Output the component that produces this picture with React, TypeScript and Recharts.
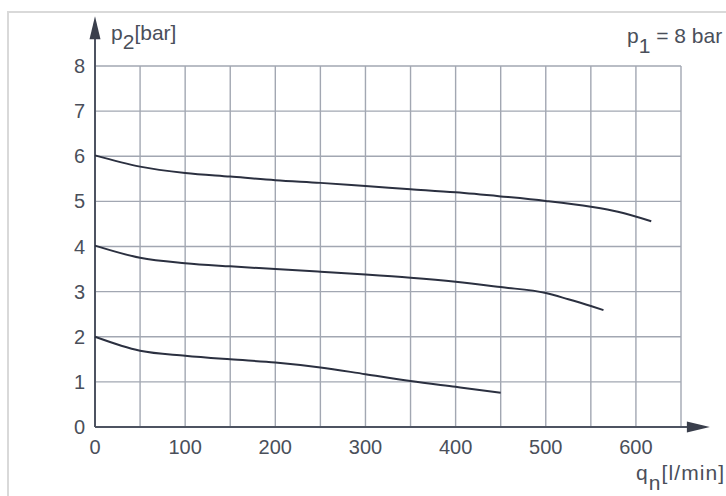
import React from "react";
import { LineChart, Line, XAxis, YAxis, ReferenceLine } from "recharts";

// Flow rate q_n [l/min] and outlet pressure p2 [bar] for three settings (p1 = 8 bar)
const qTop = [0, 50, 100, 150, 200, 250, 300, 350, 400, 450, 500, 550, 580, 617];
const pTop = [6.02, 5.77, 5.63, 5.55, 5.47, 5.41, 5.34, 5.27, 5.2, 5.11, 5.01, 4.88, 4.77, 4.56];

const qMid = [0, 50, 100, 150, 200, 250, 300, 350, 400, 450, 500, 525, 550, 564];
const pMid = [4.02, 3.75, 3.63, 3.56, 3.5, 3.44, 3.38, 3.31, 3.22, 3.1, 2.97, 2.83, 2.68, 2.59];

const qBot = [0, 50, 100, 150, 200, 250, 300, 350, 400, 450];
const pBot = [2.0, 1.69, 1.58, 1.5, 1.43, 1.32, 1.17, 1.02, 0.89, 0.76];

const xTicks = [0, 100, 200, 300, 400, 500, 600];
const yTicks = [0, 1, 2, 3, 4, 5, 6, 7, 8];
const gridQ = [50, 100, 150, 200, 250, 300, 350, 400, 450, 500, 550, 600, 650];
const gridP = [1, 2, 3, 4, 5, 6, 7, 8];
const xAxisEnd = 682;
const yAxisEnd = 9.1;

const toSeries = (q: number[], p: number[]) => q.map((x, i) => ({ q: x, p: p[i] }));
const seriesTop = toSeries(qTop, pTop);
const seriesMid = toSeries(qMid, pMid);
const seriesBot = toSeries(qBot, pBot);

const FONT = '"Liberation Sans", Arial, Helvetica, sans-serif';
const TEXT = "#4a4f5a";
const AXIS = "#4d5361";
const GRID = "#a2a7b2";
const CURVE = "#2b3040";

const ArrowLine = (props: any) => {
  const { x1, y1, x2, y2 } = props;
  const dx = x2 - x1;
  const dy = y2 - y1;
  const len = Math.sqrt(dx * dx + dy * dy) || 1;
  const ux = dx / len;
  const uy = dy / len;
  const L = 23;
  const W = 5.5;
  const bx = x2 - ux * L;
  const by = y2 - uy * L;
  const pts = `${x2},${y2} ${bx - uy * W},${by + ux * W} ${bx + uy * W},${by - ux * W}`;
  return (
    <g>
      <line x1={x1} y1={y1} x2={bx + ux * 2} y2={by + uy * 2} stroke={AXIS} strokeWidth={2} />
      <polygon points={pts} fill="#3a3f4c" />
    </g>
  );
};

export default function App() {
  return (
    <div style={{ position: "absolute", left: 0, top: 0, width: 726, height: 496, background: "#fff", overflow: "hidden" }}>
      <div
        style={{
          position: "absolute",
          left: 7,
          top: 11,
          width: 730,
          height: 500,
          borderLeft: "2px solid #d9d9d9",
          borderTop: "2px solid #d9d9d9",
        }}
      />
      <div style={{ position: "absolute", left: 0, top: 0 }}>
        <LineChart width={726} height={496} margin={{ top: 66, right: 45, bottom: 39, left: 0 }}>
          <XAxis
            type="number"
            dataKey="q"
            domain={[0, 650]}
            ticks={xTicks}
            interval={0}
            axisLine={false}
            tickLine={false}
            tickSize={0}
            tickMargin={13}
            height={30}
            allowDuplicatedCategory={false}
            tick={{ fill: TEXT, fontSize: 20, fontFamily: FONT }}
          />
          <YAxis
            type="number"
            dataKey="p"
            domain={[0, 8]}
            ticks={yTicks}
            interval={0}
            axisLine={false}
            tickLine={false}
            tickSize={0}
            tickMargin={10}
            width={95}
            tick={{ fill: TEXT, fontSize: 20, fontFamily: FONT }}
          />
          {gridQ.map((v) => (
            <ReferenceLine key={"gx" + v} x={v} stroke={GRID} strokeWidth={1.4} />
          ))}
          {gridP.map((v) => (
            <ReferenceLine key={"gy" + v} y={v} stroke={GRID} strokeWidth={1.4} />
          ))}
          <ReferenceLine
            segment={[{ x: 0, y: 0 }, { x: xAxisEnd, y: 0 }]}
            ifOverflow="visible"
            shape={ArrowLine}
          />
          <ReferenceLine
            segment={[{ x: 0, y: 0 }, { x: 0, y: yAxisEnd }]}
            ifOverflow="visible"
            shape={ArrowLine}
          />
          <Line data={seriesTop} dataKey="p" type="monotone" stroke={CURVE} strokeWidth={2} dot={false} isAnimationActive={false} />
          <Line data={seriesMid} dataKey="p" type="monotone" stroke={CURVE} strokeWidth={2} dot={false} isAnimationActive={false} />
          <Line data={seriesBot} dataKey="p" type="monotone" stroke={CURVE} strokeWidth={2} dot={false} isAnimationActive={false} />
        </LineChart>
      </div>
      <svg width={726} height={496} style={{ position: "absolute", left: 0, top: 0, pointerEvents: "none" }}>
        <text x={111} y={40} fill={TEXT} fontSize={21} fontFamily={FONT}>
          <tspan>p</tspan>
          <tspan dy={9}>2</tspan>
          <tspan dy={-9}>[bar]</tspan>
        </text>
        <text x={627} y={43} fill={TEXT} fontSize={21} fontFamily={FONT}>
          <tspan>p</tspan>
          <tspan dy={10}>1</tspan>
          <tspan dy={-10}> = 8 bar</tspan>
        </text>
        <text x={636} y={480} fill={TEXT} fontSize={21} fontFamily={FONT} letterSpacing={1.1}>
          <tspan>q</tspan>
          <tspan dy={10}>n</tspan>
          <tspan dy={-10}>[l/min]</tspan>
        </text>
      </svg>
    </div>
  );
}
